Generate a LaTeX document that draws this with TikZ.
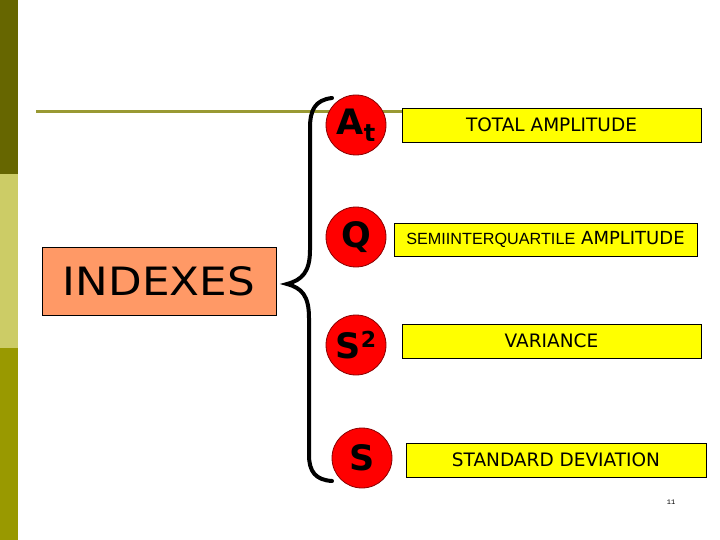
\documentclass[tikz,border=0pt]{standalone}
\usepackage{fontspec}
\setmainfont{DejaVu Sans}
\newfontfamily\arialfont{Liberation Sans}
\newfontfamily\monofont{Liberation Mono}
\usetikzlibrary{positioning}
\definecolor{barDark}{HTML}{666600}
\definecolor{barLight}{HTML}{CCCC66}
\definecolor{barOlive}{HTML}{999900}
\definecolor{ruleOlive}{HTML}{999933}
\definecolor{indexOrange}{HTML}{FF9966}
\definecolor{symRed}{HTML}{FF0000}
\definecolor{symEdge}{HTML}{880000}
\definecolor{boxYellow}{HTML}{FFFF00}

\begin{document}
\begin{tikzpicture}[
  x=1pt,y=-1pt,
  bar/.style={fill=#1,draw=none},
  symbol/.style={circle,draw=symEdge,line width=0.8pt,fill=symRed,minimum size=60pt,
    inner sep=0pt,font=\fontsize{35}{35}\selectfont\bfseries},
  namebox/.style={draw=black,line width=0.7pt,fill=boxYellow,minimum height=34pt,
    inner sep=0pt,font=\fontsize{18.5}{18.5}\selectfont},
  brace/.style={line width=4pt,black,line cap=round}
]
  \useasboundingbox (0,0) rectangle (720,540);
  % side bars and rule
  \fill[bar=barDark] (0,0) rectangle (18,174);
  \fill[bar=barLight] (0,174) rectangle (18,348);
  \fill[bar=barOlive] (0,348) rectangle (18,540);
  \draw[ruleOlive,line width=3pt] (36,112) -- (402,112);
  % main label
  \node[draw=black,line width=0.7pt,fill=indexOrange,minimum width=234pt,minimum height=68pt,
    inner sep=0pt,font=\fontsize{39}{39}\selectfont] (indexes) at (159,281)
    {\scalebox{1.12}[1]{INDEXES}};
  % the brace
  \draw[brace] (332,98) .. controls (315,100) and (310,110) .. (310,128)
    -- (310,250) .. controls (310,272) and (302,280) .. (287,284)
    .. controls (302,288) and (309,296) .. (309,318)
    -- (309,455) .. controls (309,472) and (316,480) .. (332,481);
  % symbols
  \node[symbol] (at) at (356,125) {A\raisebox{-0.35ex}{\fontsize{24}{24}\selectfont t}};
  \node[symbol] (q) at (356,237) {Q};
  \node[symbol] (ssq) at (356,345) {S\raisebox{0.55ex}{\fontsize{22}{22}\selectfont 2}};
  \node[symbol] (s) at (362,458) {S};
  % names
  \node[namebox,minimum width=299pt] (total) at (551.5,125) {TOTAL AMPLITUDE};
  \node[namebox,minimum width=303pt,minimum height=33pt] (semi) at (545.5,239.5)
    {{\arialfont\fontsize{16.2}{16.2}\selectfont SEMIINTERQUARTILE} \fontsize{18}{18}\selectfont AMPLITUDE};
  \node[namebox,minimum width=299pt] (variance) at (551.5,341) {VARIANCE};
  \node[namebox,minimum width=300pt] (stdev) at (556,460) {STANDARD DEVIATION};
  \node[font=\monofont\fontsize{7}{7}\selectfont] (page) at (671,502) {11};
\end{tikzpicture}
\end{document}
